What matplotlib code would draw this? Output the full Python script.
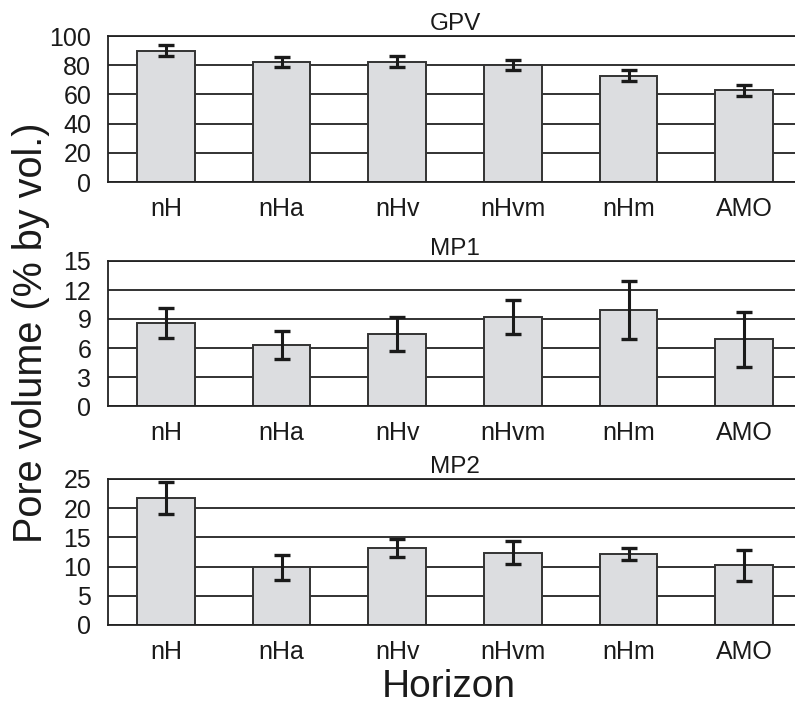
import matplotlib
matplotlib.use("Agg")
import matplotlib.pyplot as plt
import numpy as np

plt.rcParams["font.family"] = ["Liberation Sans", "DejaVu Sans"]

horizons = ["nH", "nHa", "nHv", "nHvm", "nHm", "AMO"]

# pore volume (% by vol.) per horizon, mean and error bar half-width
gpv_mean = [89.8, 82.3, 82.5, 80.0, 72.9, 62.7]
gpv_err = [3.8, 3.2, 3.7, 3.5, 3.6, 3.6]

mp1_mean = [8.6, 6.35, 7.45, 9.2, 9.9, 6.9]
mp1_err = [1.53, 1.45, 1.8, 1.8, 2.98, 2.83]

mp2_mean = [21.8, 9.9, 13.2, 12.4, 12.1, 10.2]
mp2_err = [2.76, 2.13, 1.6, 1.9, 1.0, 2.7]

panels = [
    ("GPV", gpv_mean, gpv_err, [0, 20, 40, 60, 80, 100]),
    ("MP1", mp1_mean, mp1_err, [0, 3, 6, 9, 12, 15]),
    ("MP2", mp2_mean, mp2_err, [0, 5, 10, 15, 20, 25]),
]

W, H = 795, 716
fig = plt.figure(figsize=(W / 100, H / 100), dpi=100)

# pixel boxes (left, top, right, bottom) of each panel
boxes = [(108, 36, 802, 182), (108, 261, 802, 406), (108, 479, 802, 625)]

x = np.arange(len(horizons))
for (title, mean, err, ticks), (l, t, r, b) in zip(panels, boxes):
    ax = fig.add_axes([l / W, 1 - b / H, (r - l) / W, (b - t) / H])
    ax.set_axisbelow(True)
    ax.yaxis.grid(True, color="#222222", linewidth=1.3)
    ax.bar(x, mean, 0.5, color="#dcdde0", edgecolor="#333333", linewidth=1.4, zorder=2)
    ax.errorbar(x, mean, yerr=err, fmt="none", ecolor="#1a1a1a",
                elinewidth=2.2, capsize=5.5, capthick=2.4, zorder=3)
    ax.set_xlim(-0.5, len(horizons) - 0.5)
    ax.set_ylim(ticks[0], ticks[-1])
    ax.set_yticks(ticks)
    ax.set_xticks(x)
    ax.set_xticklabels(horizons)
    ax.tick_params(axis="both", length=0, labelsize=18, colors="#1a1a1a")
    ax.tick_params(axis="y", pad=12)
    ax.tick_params(axis="x", pad=11)
    for s in ["top", "left", "bottom"]:
        ax.spines[s].set_color("#222222")
        ax.spines[s].set_linewidth(1.3)
    ax.spines["right"].set_visible(False)
    ax.set_title(title, fontsize=17.5, pad=4, color="#1a1a1a")

fig.text(449 / W, 1 - 697 / H, "Horizon", fontsize=28, ha="center", va="baseline",
         color="#1a1a1a")
fig.text(31 / W, 1 - 333 / H, "Pore volume (% by vol.)", fontsize=28.5,
         rotation=90, ha="center", va="center", color="#1a1a1a")

fig.savefig("out.png", dpi=100)
